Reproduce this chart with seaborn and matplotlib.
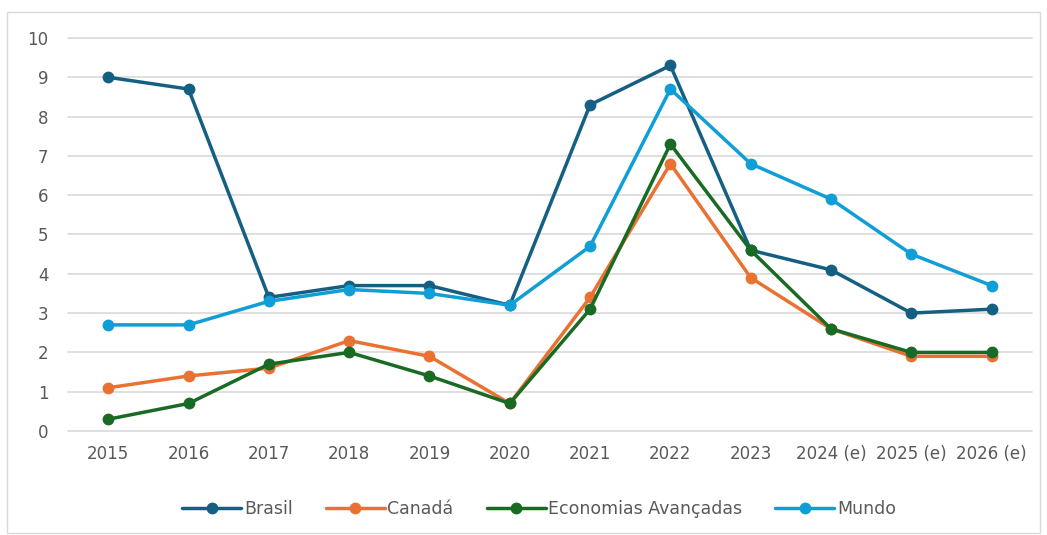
import pandas as pd
import numpy as np
import matplotlib
matplotlib.use("Agg")
import matplotlib.pyplot as plt
import seaborn as sns
from matplotlib.patches import Rectangle

# =========================================
# DATA
# =========================================
years = ["2015", "2016", "2017", "2018", "2019", "2020", "2021", "2022",
         "2023", "2024 (e)", "2025 (e)", "2026 (e)"]
brasil = [9.0, 8.7, 3.4, 3.7, 3.7, 3.2, 8.3, 9.3, 4.6, 4.1, 3.0, 3.1]
canada = [1.1, 1.4, 1.6, 2.3, 1.9, 0.7, 3.4, 6.8, 3.9, 2.6, 1.9, 1.9]
economias = [0.3, 0.7, 1.7, 2.0, 1.4, 0.7, 3.1, 7.3, 4.6, 2.6, 2.0, 2.0]
mundo = [2.7, 2.7, 3.3, 3.6, 3.5, 3.2, 4.7, 8.7, 6.8, 5.9, 4.5, 3.7]

series = {
    "Brasil": brasil,
    "Canadá": canada,
    "Economias Avançadas": economias,
    "Mundo": mundo,
}
palette = {
    "Brasil": "#156082",
    "Canadá": "#E97132",
    "Economias Avançadas": "#196B24",
    "Mundo": "#0F9ED5",
}

df = pd.concat(
    [pd.DataFrame({"ano": years, "valor": vals, "serie": name}) for name, vals in series.items()],
    ignore_index=True,
)

# =========================================
# PLOT
# =========================================
sns.set_style("white")
plt.rcParams["font.family"] = ["DejaVu Sans"]

fig = plt.figure(figsize=(10.47, 5.35), dpi=100)
ax = fig.add_axes([0.065, 0.1944, 0.9205, 0.7346])

sns.lineplot(data=df, x="ano", y="valor", hue="serie", palette=palette,
             marker="o", markersize=8.5, markeredgewidth=0, linewidth=2.5,
             sort=False, ax=ax)

ax.set_xlim(-0.5, len(years) - 0.5)
ax.set_ylim(0, 10)
ax.set_yticks(range(0, 11))
ax.yaxis.grid(True, color="#D9D9D9", linewidth=1.2)
for gl in ax.get_ygridlines():
    gl.set_clip_on(False)
ax.set_axisbelow(True)
for s in ax.spines.values():
    s.set_visible(False)
ax.set_xlabel("")
ax.set_ylabel("")
ax.tick_params(axis="both", length=0, labelsize=12, labelcolor="#595959")
ax.tick_params(axis="y", pad=14)
ax.tick_params(axis="x", pad=10)

handles, labels = ax.get_legend_handles_labels()
ax.legend_.remove()
fig.legend(handles, labels, loc="center", bbox_to_anchor=(0.515, 0.049), ncol=4,
           frameon=False, fontsize=12.5, labelcolor="#595959", handlelength=3.4,
           handletextpad=0.15, columnspacing=1.9)

# chart border
fig.patches.append(Rectangle((7 / 1047, 2 / 535), 1033 / 1047, 521 / 535,
                             transform=fig.transFigure, fill=False,
                             edgecolor="#D9D9D9", linewidth=1))

fig.savefig("out.png", dpi=100)
